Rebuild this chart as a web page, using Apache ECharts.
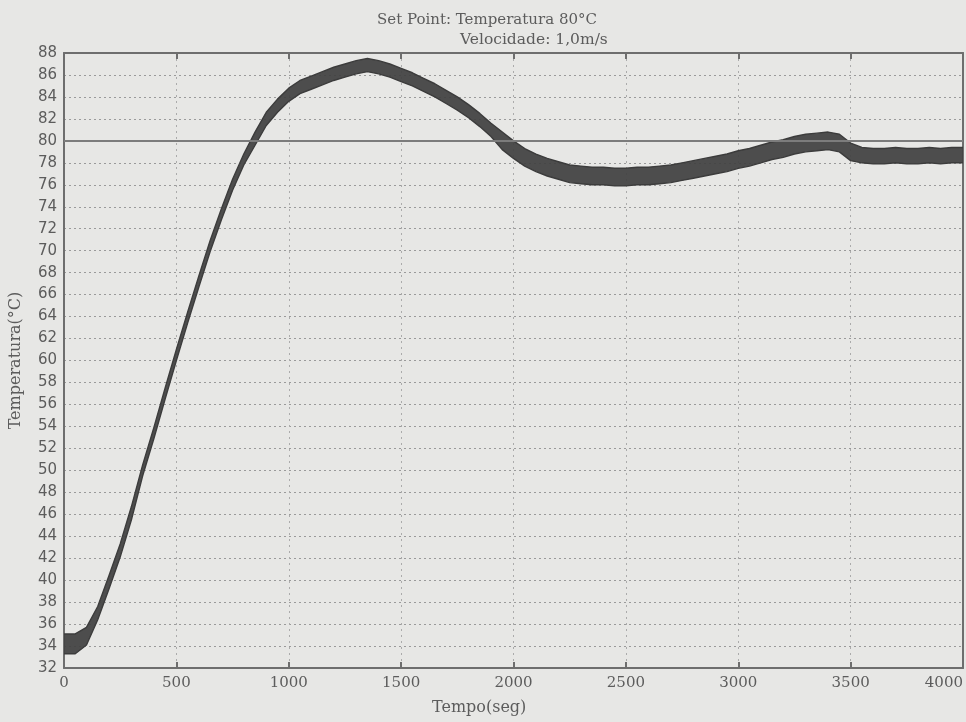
<!DOCTYPE html>
<html>
<head>
<meta charset="utf-8">
<script src="https://cdn.jsdelivr.net/npm/echarts@6/dist/echarts.min.js"></script>
<style>
  html, body { margin: 0; padding: 0; background: #e7e7e5; }
  #chart { width: 966px; height: 722px; }
</style>
</head>
<body>
<div id="chart"></div>
<script>
// tempo (s), read every 50 s
const tempo = [
  0, 50, 100, 150, 200, 250, 300, 350, 400, 450,
  500, 550, 600, 650, 700, 750, 800, 850, 900, 950,
  1000, 1050, 1100, 1150, 1200, 1250, 1300, 1350, 1400, 1450,
  1500, 1550, 1600, 1650, 1700, 1750, 1800, 1850, 1900, 1950,
  2000, 2050, 2100, 2150, 2200, 2250, 2300, 2350, 2400, 2450,
  2500, 2550, 2600, 2650, 2700, 2750, 2800, 2850, 2900, 2950,
  3000, 3050, 3100, 3150, 3200, 3250, 3300, 3350, 3400, 3450,
  3500, 3550, 3600, 3650, 3700, 3750, 3800, 3850, 3900, 3950,
  4000
]
// centre of the noisy trace (°C)
const temperatura = [
  34.2, 34.2, 34.9, 37.0, 39.8, 42.7, 46.1, 50.0, 53.4, 57.0,
  60.5, 63.9, 67.2, 70.4, 73.3, 76.0, 78.3, 80.2, 82.0, 83.2,
  84.2, 84.9, 85.3, 85.7, 86.1, 86.4, 86.7, 86.9, 86.7, 86.4,
  86.0, 85.6, 85.1, 84.6, 84.0, 83.4, 82.7, 81.9, 81.0, 80.0,
  79.2, 78.5, 78.0, 77.6, 77.3, 77.0, 76.9, 76.8, 76.8, 76.7,
  76.7, 76.8, 76.8, 76.9, 77.0, 77.2, 77.4, 77.6, 77.8, 78.0,
  78.3, 78.5, 78.8, 79.1, 79.3, 79.6, 79.8, 79.9, 80.0, 79.8,
  79.0, 78.7, 78.6, 78.6, 78.7, 78.6, 78.6, 78.7, 78.6, 78.7,
  78.7
]
// half width of the noise band (°C)
const ruido = [
  0.9, 0.9, 0.8, 0.6, 0.6, 0.6, 0.6, 0.5, 0.5, 0.5,
  0.5, 0.5, 0.5, 0.5, 0.5, 0.5, 0.5, 0.6, 0.6, 0.6,
  0.6, 0.6, 0.6, 0.6, 0.6, 0.6, 0.6, 0.6, 0.6, 0.6,
  0.6, 0.6, 0.6, 0.6, 0.6, 0.6, 0.6, 0.6, 0.6, 0.8,
  0.8, 0.8, 0.8, 0.8, 0.8, 0.8, 0.8, 0.8, 0.8, 0.8,
  0.8, 0.8, 0.8, 0.8, 0.8, 0.8, 0.8, 0.8, 0.8, 0.8,
  0.8, 0.8, 0.8, 0.8, 0.8, 0.8, 0.8, 0.8, 0.8, 0.8,
  0.8, 0.7, 0.7, 0.7, 0.7, 0.7, 0.7, 0.7, 0.7, 0.7,
  0.7
]
const setPoint = 80
const yTicks = [32, 88, 2] // min, max, step

const base = temperatura.map((v, i) => +(v - ruido[i]).toFixed(2))
const faixa = ruido.map(r => +(2 * r).toFixed(2))

const chart = echarts.init(document.getElementById('chart'))

const serif = 'DejaVu Serif'
const axisColor = '#6e6e6e'
const textColor = '#5c5c5c'

function xAxisCfg(top) {
  return {
    type: 'category',
    data: tempo,
    boundaryGap: false,
    position: top ? 'top' : 'bottom',
    axisLine: { show: true, lineStyle: { color: axisColor, width: 2 } },
    axisTick: { inside: true, length: 6, interval: 9, lineStyle: { color: axisColor, width: 2 } },
    axisLabel: top ? { show: false } : {
      interval: 9, fontFamily: serif, fontSize: 15, color: textColor, margin: 8, alignMaxLabel: 'right'
    },
    splitLine: top ? { show: false } : {
      show: true, interval: 9, lineStyle: { color: '#ababab', type: [2, 4], width: 1 }
    }
  }
}

function yAxisCfg(right) {
  return {
    type: 'value',
    position: right ? 'right' : 'left',
    min: yTicks[0], max: yTicks[1], interval: yTicks[2],
    name: right ? '' : 'Temperatura(°C)', nameLocation: 'middle', nameGap: 40,
    nameTextStyle: { fontFamily: serif, fontSize: 16, color: textColor },
    axisLine: { show: true, lineStyle: { color: axisColor, width: 2 } },
    axisTick: { inside: true, length: 5, lineStyle: { color: axisColor, width: 2 } },
    axisLabel: right ? { show: false } : { fontFamily: 'DejaVu Sans', fontSize: 15, color: textColor, margin: 7 },
    splitLine: right ? { show: false } : { show: true, lineStyle: { color: '#9a9a9a', type: [2, 3], width: 1 } }
  }
}

const options = {
  backgroundColor: '#e7e7e5',
  animation: false,
  title: [{
    text: 'Set Point: Temperatura 80°C',
    left: 372, top: 8,
    textStyle: { fontFamily: serif, fontSize: 15, fontWeight: 'normal', color: textColor }
  }, {
    text: 'Velocidade: 1,0m/s',
    left: 455, top: 27,
    textStyle: { fontFamily: serif, fontSize: 15.5, fontWeight: 'normal', color: textColor }
  }],
  grid: { left: 60, right: 2, top: 53, bottom: 54 },
  xAxis: [xAxisCfg(false), xAxisCfg(true)],
  yAxis: [yAxisCfg(false), yAxisCfg(true)],
  graphic: [{
    type: 'text', left: 432, top: 700,
    style: { text: 'Tempo(seg)', font: '16px "DejaVu Serif"', fill: textColor }
  }],
  series: [{
    name: 'base',
    type: 'line',
    data: base,
    stack: 'temp',
    symbol: 'none',
    lineStyle: { color: '#3c3c3c', width: 1.4 },
    markLine: {
      silent: true, symbol: 'none', label: { show: false },
      lineStyle: { color: '#7c7c7c', type: 'solid', width: 2 },
      data: [{ yAxis: setPoint }]
    }
  }, {
    name: 'faixa',
    type: 'line',
    data: faixa,
    stack: 'temp',
    symbol: 'none',
    lineStyle: { color: '#3c3c3c', width: 1.4 },
    areaStyle: { color: '#404040', opacity: 0.92 }
  }]
}

options && chart.setOption(options)
</script>
</body>
</html>
